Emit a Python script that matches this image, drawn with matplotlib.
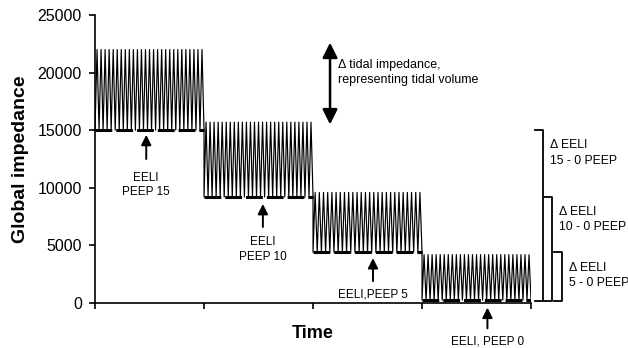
import numpy as np
import matplotlib
matplotlib.use("Agg")
import matplotlib.pyplot as plt

plt.rcParams["font.family"] = ["Liberation Sans", "DejaVu Sans"]

# PEEP steps (15, 10, 5, 0 cmH2O), one per time block
peep_steps = [15, 10, 5, 0]
eeli = [15000, 9200, 4400, 250]        # end-expiratory lung impedance
peak = [22000, 15700, 9600, 4200]      # end-inspiratory impedance
breaths = [27, 27, 26, 27]
yticks = [0, 5000, 10000, 15000, 20000, 25000]

fig = plt.figure(figsize=(6.28, 3.48), dpi=100)
ax = fig.add_axes([0.1513, 0.1293, 0.6943, 0.8276])

# tidal breathing curve: each breath goes eeli -> peak -> eeli
for i in range(len(peep_steps)):
    n = breaths[i]
    t = np.linspace(i, i + 1, 2 * n + 1)
    v = np.where(np.arange(2 * n + 1) % 2 == 0, eeli[i], peak[i])
    if i > 0:
        t = np.concatenate([[i], t])
        v = np.concatenate([[eeli[i - 1]], v])
    ax.plot(t, v, color="black", lw=0.85)
    ax.plot([i, i + 1], [eeli[i], eeli[i]], color="black", lw=2.2,
            dashes=(5.5, 1.3))

ax.set_xlim(0, 4)
ax.set_ylim(0, 25000)
ax.set_yticks(yticks)
ax.set_xticks(range(5))
ax.set_xticklabels([])
for s in ["top", "right"]:
    ax.spines[s].set_visible(False)
for s in ["left", "bottom"]:
    ax.spines[s].set_linewidth(1.2)
ax.tick_params(direction="out", length=4.5, width=1.2, labelsize=11.5, pad=5)
ax.set_ylabel("Global impedance", fontsize=14, fontweight="bold", labelpad=6)
ax.set_xlabel("Time", fontsize=13, fontweight="bold", labelpad=6)

arrow = dict(arrowstyle="-|>,head_width=0.3,head_length=0.6", color="black",
             lw=1.4, shrinkA=0, shrinkB=0)

# EELI markers
ax.annotate("", xy=(0.47, 14600), xytext=(0.47, 12500), arrowprops=arrow)
ax.text(0.47, 11400, "EELI\nPEEP 15", ha="center", va="top", fontsize=8.5,
        linespacing=1.3)
ax.annotate("", xy=(1.54, 8600), xytext=(1.54, 6600), arrowprops=arrow)
ax.text(1.54, 5800, "EELI\nPEEP 10", ha="center", va="top", fontsize=8.5,
        linespacing=1.3)
ax.annotate("", xy=(2.55, 3900), xytext=(2.55, 1900), arrowprops=arrow)
ax.text(2.55, 1300, "EELI,PEEP 5", ha="center", va="top", fontsize=8.5)
ax.annotate("", xy=(3.6, -400), xytext=(3.6, -2200), arrowprops=arrow,
            annotation_clip=False)
ax.text(3.6, -2800, "EELI, PEEP 0", ha="center", va="top", fontsize=8.5,
        clip_on=False)

# tidal impedance double arrow
big = dict(arrowstyle="<|-|>,head_width=0.45,head_length=0.9", color="black",
           lw=1.8, shrinkA=0, shrinkB=0)
ax.annotate("", xy=(2.156, 22600), xytext=(2.156, 15500), arrowprops=big,
            annotation_clip=False)
ax.text(2.23, 20000, "\u0394 tidal impedance,\nrepresenting tidal volume",
        ha="left", va="center", fontsize=9, linespacing=1.35)

# delta EELI brackets
bx = [4.11, 4.19, 4.28]
lx = [4.17, 4.255, 4.345]
for k in range(3):
    top = eeli[k]
    base = eeli[3] - 100
    ax.plot([bx[k] - 0.07, bx[k], bx[k], bx[k] - 0.07], [top, top, base, base],
            color="black", lw=1.3, clip_on=False)
    ax.text(lx[k], top - 800, "\u0394 EELI\n%d - 0 PEEP" % peep_steps[k],
            ha="left", va="top", fontsize=8.8, linespacing=1.35, clip_on=False)

fig.savefig("out.png", dpi=100)
